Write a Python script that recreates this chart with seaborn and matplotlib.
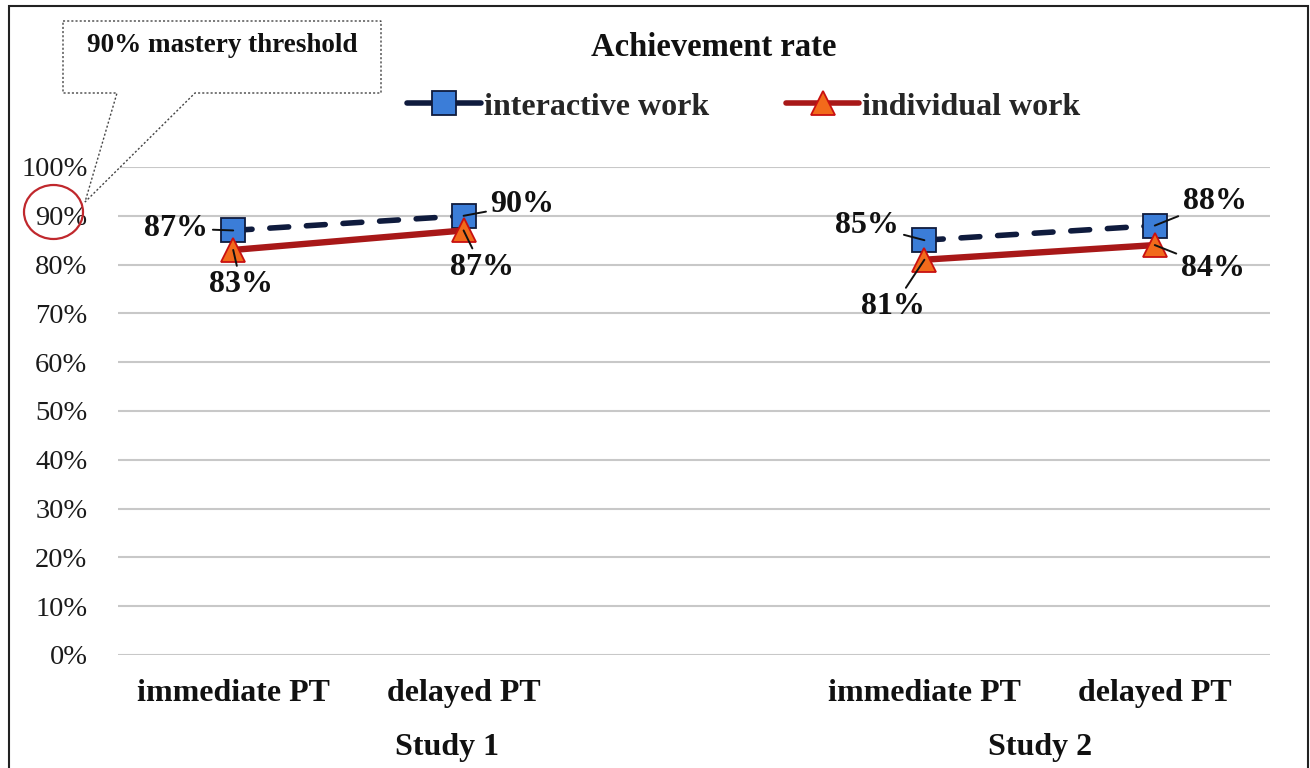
import numpy as np
import pandas as pd
import matplotlib
matplotlib.use("Agg")
import matplotlib.pyplot as plt
import seaborn as sns
from matplotlib.lines import Line2D
from matplotlib.patches import Polygon, Ellipse, Rectangle

# chart data
categories = ["immediate PT", "delayed PT", "", "immediate PT", "delayed PT"]
studies = ["Study 1", "Study 1", "", "Study 2", "Study 2"]
interactive_work = [0.87, 0.90, np.nan, 0.85, 0.88]
individual_work = [0.83, 0.87, np.nan, 0.81, 0.84]
series_names = ["interactive work", "individual work"]
study_names = ["Study 1", "Study 2"]
y_ticks = [0.0, 0.1, 0.2, 0.3, 0.4, 0.5, 0.6, 0.7, 0.8, 0.9, 1.0]

W, H = 1310, 768

sns.set_theme(style="whitegrid")
plt.rcParams['font.family'] = ['Liberation Serif', 'DejaVu Serif']


def fx(x):
    return x / W


def fy(y):
    return 1 - y / H


rows = []
for name, vals in zip(series_names, [interactive_work, individual_work]):
    for slot, (st, v) in enumerate(zip(studies, vals)):
        if st:
            rows.append({"slot": slot, "rate": v, "series": name, "study": st})
df = pd.DataFrame(rows)

fig = plt.figure(figsize=(W / 100, H / 100), dpi=100)
ax = fig.add_axes([fx(118), fy(655), fx(1152), 488 / H])

marker_styles = {
    "interactive work": dict(color="#0f1b3d", marker="s", markersize=17, markerfacecolor="#3b7dd8",
                             markeredgecolor="#0f1b3d", markeredgewidth=1.3),
    "individual work": dict(color="#a81818", marker="^", markersize=17,
                            markerfacecolor="#f26a1b", markeredgecolor="#c81010",
                            markeredgewidth=1.3),
}
line_styles = {
    "interactive work": dict(linestyle=(0, (3.4, 3.2)), dash_capstyle="round", lw=4.0),
    "individual work": dict(linestyle="-", lw=4.6),
}

for name in series_names:
    for st in study_names:
        sub = df[(df["series"] == name) & (df["study"] == st)]
        sns.lineplot(data=sub, x="slot", y="rate", ax=ax, legend=False,
                     **marker_styles[name], **line_styles[name])

ax.set_xlim(-0.5, 4.5)
ax.set_ylim(0, 1)
ax.set_xlabel("")
ax.set_ylabel("")
ax.set_yticks(y_ticks)
ax.set_yticklabels([f"{v:.0%}" for v in y_ticks], fontsize=20.5, color="#1a1a1a")
ax.set_xticks(range(len(categories)))
ax.set_xticklabels(categories, fontsize=23, fontweight="bold", color="#111111")
ax.tick_params(axis="y", pad=22, length=0)
ax.tick_params(axis="x", pad=17, length=0)
ax.grid(axis="x", visible=False)
ax.grid(axis="y", color="#c8c8c8", lw=1.5)
ax.set_axisbelow(True)
for s in ax.spines.values():
    s.set_visible(False)

# study group labels
for st, xpos in zip(study_names, [0.93, 3.5]):
    ax.text(xpos, -0.19, st, transform=ax.get_xaxis_transform(), ha="center", va="center",
            fontsize=23, fontweight="bold", color="#111111")

# data labels with leader lines
label_offsets = {
    "interactive work": [(-57, 2), (59, 11), None, (-57, 15), (60, 24)],
    "individual work": [(8, -35), (18, -37), None, (-31, -47), (58, -23)],
}
for name, vals in zip(series_names, [interactive_work, individual_work]):
    for slot, v in enumerate(vals):
        off = label_offsets[name][slot]
        if off is None:
            continue
        ax.annotate(f"{v:.0%}", xy=(slot, v), xytext=off, textcoords="offset pixels",
                    ha="center", va="center", fontsize=23, fontweight="bold", color="#111111",
                    arrowprops=dict(arrowstyle="-", color="#111111", lw=1.4,
                                    shrinkA=1, shrinkB=0), zorder=5)

# title and legend (solid proxy handles, like the original)
fig.text(fx(714), fy(47), "Achievement rate", ha="center", va="center",
         fontsize=23.5, fontweight="bold", color="#111111")
proxies = [Line2D([], [], lw=4.0, **marker_styles[n]) for n in series_names]
fig.legend(proxies, series_names, loc="center",
           bbox_to_anchor=(fx(744), fy(107)), ncol=2, frameon=False,
           prop=dict(family="Liberation Serif", weight="bold", size=23),
           handlelength=2.3, columnspacing=2.4, handletextpad=0.1)

# callout and highlight circle
callout = Polygon([(fx(63), fy(21)), (fx(381), fy(21)), (fx(381), fy(93)), (fx(195), fy(93)),
                   (fx(85), fy(202)), (fx(117), fy(93)), (fx(63), fy(93))],
                  closed=True, transform=fig.transFigure, facecolor="white",
                  edgecolor="#444444", linestyle=(0, (1.5, 1.5)), lw=1.0, zorder=3)
fig.patches.append(callout)
fig.text(fx(222), fy(46), "90% mastery threshold", ha="center", va="center",
         fontsize=19.5, fontweight="bold", color="#111111", zorder=4)
fig.patches.append(Ellipse((fx(53.5), fy(212)), fx(59), 54 / H, transform=fig.transFigure,
                           fill=False, edgecolor="#c0282d", lw=1.6, zorder=4))

# outer frame
fig.patches.append(Rectangle((fx(9), fy(800)), fx(1299), 794 / H, transform=fig.transFigure,
                             fill=False, edgecolor="#222222", lw=1.5))

fig.savefig("out.png", dpi=100)
